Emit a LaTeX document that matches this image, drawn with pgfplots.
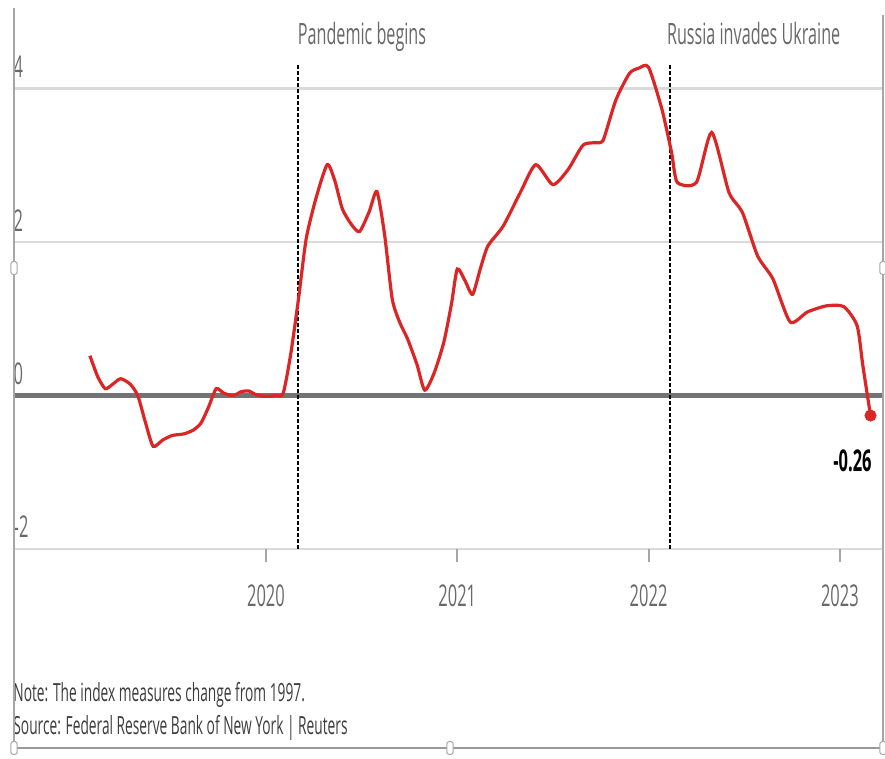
\documentclass[border=0pt]{standalone}
\usepackage{pgfplots}
\pgfplotsset{compat=1.18}
\usepackage{fontspec}
\setmainfont{Open Sans}[FakeStretch=0.55]
\definecolor{rred}{RGB}{220,38,38}
\definecolor{tgray}{RGB}{105,105,105}
\definecolor{ngray}{RGB}{60,60,60}
\definecolor{ggray}{RGB}{218,218,218}
\definecolor{zgray}{RGB}{115,115,115}
\begin{document}
\begin{tikzpicture}
\useasboundingbox (0,0) rectangle (442.5pt,379.5pt);
\begin{axis}[
  at={(7pt,105pt)}, anchor=south west,
  scale only axis, width=434pt, height=242pt,
  xmin=2018.683, xmax=2023.22, ymin=-2, ymax=4.31,
  clip=false,
  axis line style={draw=none},
  xtick={2020,2021,2022,2023},
  xticklabels={2020,2021,2022,2023},
  ytick={-2,0,2,4},
  yticklabels={-2,0,2,4},
  xtick pos=bottom,
  tick align=outside,
  major tick length=6.5pt,
  xtick style={color=gray!70, line width=1pt},
  ytick style={draw=none},
  ymajorgrids,
  grid style={color=ggray, line width=1.3pt},
  /pgf/number format/assume math mode=true,
  tick label style={font=\fontsize{15}{18}\selectfont, text=tgray},
  xticklabel style={anchor=north, yshift=-8pt},
  yticklabel style={anchor=base west, xshift=2.8pt, yshift=5.5pt},
]
\draw[zgray, line width=2.2pt] (axis cs:2018.683,0) -- (axis cs:2023.22,0);
\draw[black, line width=1pt, dash pattern=on 2pt off 1pt] (axis cs:2020.17,-2) -- (axis cs:2020.17,4.31);
\draw[black, line width=1pt, dash pattern=on 2pt off 1pt] (axis cs:2022.11,-2) -- (axis cs:2022.11,4.31);
\addplot[rred, line width=1.6pt, smooth, tension=0.4] coordinates {
(2019.08,0.52) (2019.12,0.25) (2019.16,0.09) (2019.20,0.15) (2019.24,0.22) (2019.29,0.15)
(2019.33,0.00) (2019.37,-0.35) (2019.41,-0.66) (2019.46,-0.58) (2019.51,-0.52) (2019.57,-0.50)
(2019.62,-0.45) (2019.66,-0.36) (2019.70,-0.15) (2019.74,0.09) (2019.78,0.03) (2019.83,0.00)
(2019.87,0.05) (2019.91,0.06) (2019.95,0.01) (2020.00,-0.01) (2020.05,0.00) (2020.09,0.03)
(2020.13,0.55) (2020.17,1.26) (2020.21,2.04) (2020.26,2.56) (2020.32,3.01) (2020.36,2.80)
(2020.40,2.43) (2020.45,2.22) (2020.49,2.14) (2020.54,2.40) (2020.58,2.66) (2020.62,2.10)
(2020.66,1.26) (2020.70,0.95) (2020.74,0.74) (2020.79,0.40) (2020.83,0.07) (2020.88,0.30)
(2020.93,0.70) (2020.97,1.20) (2021.00,1.65) (2021.04,1.50) (2021.08,1.32) (2021.12,1.65)
(2021.16,1.95) (2021.24,2.21) (2021.33,2.65) (2021.41,3.01) (2021.50,2.75) (2021.58,2.95)
(2021.66,3.27) (2021.75,3.30) (2021.77,3.38) (2021.83,3.86) (2021.90,4.20) (2021.95,4.27)
(2022.00,4.28) (2022.07,3.73) (2022.12,3.17) (2022.15,2.78) (2022.25,2.78) (2022.33,3.43)
(2022.42,2.65) (2022.49,2.39) (2022.57,1.82) (2022.65,1.52) (2022.74,0.96) (2022.83,1.09)
(2022.93,1.17) (2023.02,1.16) (2023.09,0.91) (2023.12,0.39) (2023.16,-0.26)
};
\addplot[only marks, mark=*, mark size=2.8pt, color=rred] coordinates {(2023.16,-0.26)};
\node[anchor=base west, text=tgray, font=\fontsize{14.7}{17}\selectfont, inner sep=0pt]
  at ([xshift=-0.5pt,yshift=10pt]axis cs:2020.17,4.31) {Pandemic begins};
\node[anchor=base west, text=tgray, font=\fontsize{14.7}{17}\selectfont, inner sep=0pt]
  at ([xshift=-1.5pt,yshift=10pt]axis cs:2022.11,4.31) {Russia invades Ukraine};
\end{axis}
\node[anchor=base east, font=\fontsize{15}{18}\selectfont\bfseries, inner sep=0pt] at (436pt,143.5pt) {-0.26};
\node[anchor=base west, text=ngray, font=\fontsize{12.5}{15}\selectfont, inner sep=0pt] at (6.5pt,28.5pt) {Note: The index measures change from 1997.};
\node[anchor=base west, text=ngray, font=\fontsize{12.5}{15}\selectfont, inner sep=0pt] at (6.5pt,12pt) {Source: Federal Reserve Bank of New York | Reuters};
% image frame
\draw[gray!70, line width=0.8pt] (7pt,375.5pt) -- (7pt,2pt);
\draw[gray!70, line width=0.8pt] (441.5pt,372pt) -- (441.5pt,5.5pt);
\draw[gray!80, line width=1.3pt] (7pt,5.5pt) -- (441.5pt,5.5pt);
\foreach \p in {(7pt,245.5pt),(441.5pt,245.5pt),(7pt,5.5pt),(225pt,5.5pt),(441.5pt,5.5pt)}
  \draw[gray!70, fill=white, line width=0.5pt, rounded corners=1.2pt] \p ++(-1.6pt,-3.2pt) rectangle ++(3.2pt,6.4pt);
\end{tikzpicture}
\end{document}
